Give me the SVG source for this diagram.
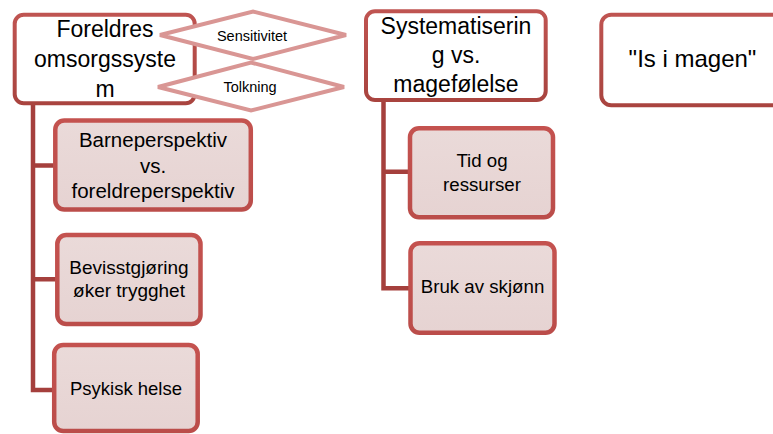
<svg xmlns="http://www.w3.org/2000/svg" width="773" height="434" viewBox="0 0 773 434">
  <defs>
    <linearGradient id="g1" x1="0" y1="0" x2="0" y2="1">
      <stop offset="0" stop-color="#bf5451"/>
      <stop offset="1" stop-color="#a9443f"/>
    </linearGradient>
    <linearGradient id="g2" x1="0" y1="0" x2="0" y2="1">
      <stop offset="0" stop-color="#c4524f"/>
      <stop offset="1" stop-color="#bb4d4a"/>
    </linearGradient>
    <linearGradient id="fill2" x1="0" y1="0" x2="0" y2="1">
      <stop offset="0" stop-color="#eadad9"/>
      <stop offset="1" stop-color="#e6d3d2"/>
    </linearGradient>
  </defs>
  <style>
    text { font-family: "Liberation Sans", Arial, sans-serif; fill: #000; text-anchor: middle; }
    .l1 rect { fill: #fff; stroke: url(#g1); stroke-width: 4; }
    .l2 rect { fill: url(#fill2); stroke: url(#g2); stroke-width: 4.5; }
    .dia polygon { fill: #fff; stroke: #d99694; stroke-width: 4; stroke-linejoin: miter; }
    .conn path { fill: none; stroke: #a5403d; stroke-width: 4.5; stroke-linejoin: miter; }
    .t1 { font-size: 23px; }
    .t2 { font-size: 19px; }
    .td { font-size: 14.5px; }
  </style>

  <g id="connectors" class="conn">
    <path d="M33,104 V390 H55 M33,165.5 H55 M33,279.3 H57"/>
    <path d="M383.5,100 V288.3 H410 M383.5,171.7 H410"/>
  </g>

  <g id="foreldres" class="l1">
    <rect x="14.7" y="14.7" width="180" height="88.5" rx="9"/>
    <text class="t1" x="105" y="37.3">Foreldres</text>
    <text class="t1" x="105" y="67">omsorgssyste</text>
    <text class="t1" x="105" y="96.7">m</text>
  </g>

  <g id="sensitivitet" class="dia">
    <polygon points="160,35 253,11.5 346,35 253,59"/>
    <text class="td" x="252" y="40.5">Sensitivitet</text>
  </g>

  <g id="tolkning" class="dia">
    <polygon points="158,87 251,62.5 344,87 251,110.5"/>
    <text class="td" x="250" y="92">Tolkning</text>
  </g>

  <g id="barneperspektiv" class="l2">
    <rect x="55.3" y="120.5" width="195.5" height="89" rx="9"/>
    <text x="153" y="147" style="font-size:20.5px">Barneperspektiv</text>
    <text x="153" y="172.7" style="font-size:20.5px">vs.</text>
    <text x="153" y="198" style="font-size:20.5px">foreldreperspektiv</text>
  </g>

  <g id="bevisstgjoring" class="l2">
    <rect x="57.3" y="235" width="143.2" height="89" rx="9"/>
    <text class="t2" x="129" y="273.5">Bevisstgjøring</text>
    <text class="t2" x="129" y="296.7">øker trygghet</text>
  </g>

  <g id="psykisk" class="l2">
    <rect x="54.2" y="345" width="143.5" height="86" rx="9"/>
    <text x="126" y="395" style="font-size:18.5px">Psykisk helse</text>
  </g>

  <g id="systematisering" class="l1">
    <rect x="366" y="11.3" width="179.7" height="88.7" rx="9"/>
    <text class="t1" x="456" y="34">Systematiserin</text>
    <text class="t1" x="456" y="63.3">g vs.</text>
    <text class="t1" x="456" y="91.7">magefølelse</text>
  </g>

  <g id="tid" class="l2">
    <rect x="410" y="128.3" width="143" height="89" rx="9"/>
    <text x="482" y="166.7" style="font-size:18.7px">Tid og</text>
    <text x="482" y="190.7" style="font-size:18.7px">ressurser</text>
  </g>

  <g id="bruk" class="l2">
    <rect x="410.5" y="243.2" width="144" height="89.5" rx="9"/>
    <text x="482.5" y="293.3" style="font-size:18.7px">Bruk av skjønn</text>
  </g>

  <g id="isimagen" class="l1">
    <rect x="601.3" y="14.7" width="185" height="90.6" rx="10"/>
    <text x="692.5" y="66.7" style="font-size:24px">"Is i magen"</text>
  </g>
</svg>
